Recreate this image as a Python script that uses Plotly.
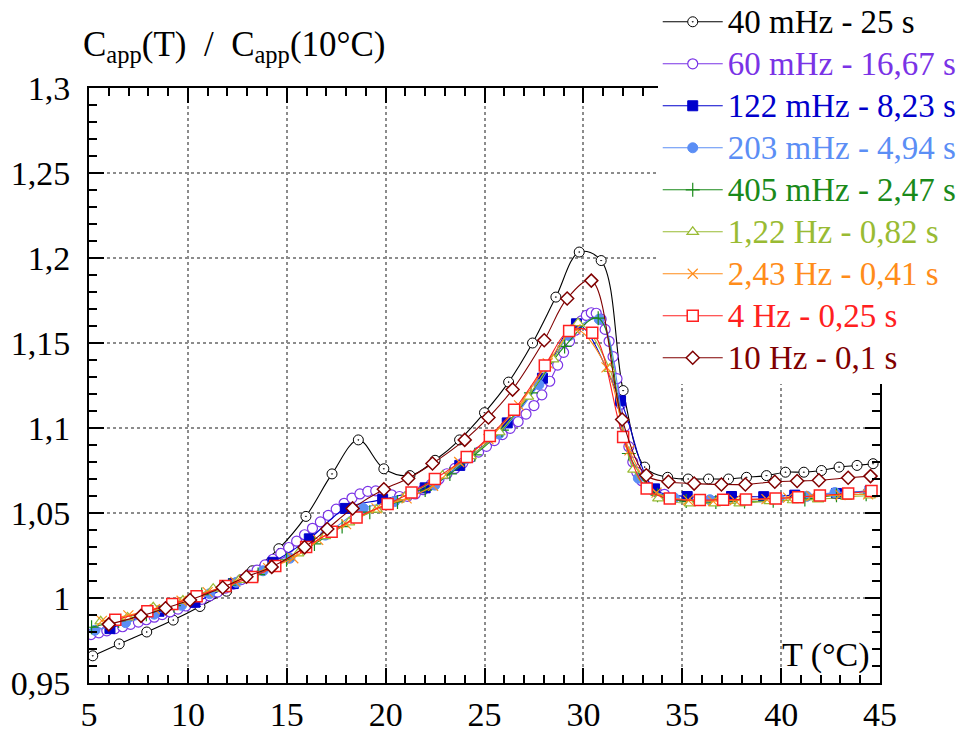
import plotly.graph_objects as go

# ---------------- data ----------------
T_40 = [5.19, 6.53, 7.92, 9.26, 10.61, 11.96, 13.26, 14.6, 15.97, 17.29, 18.62, 19.91, 21.23, 22.5,
        23.74, 25.0, 26.22, 27.43, 28.61, 29.79, 30.9, 32.01, 33.1, 34.26, 35.3, 36.33, 37.34, 38.25,
        39.26, 40.22, 41.15, 42.04, 42.93, 43.84, 44.65]
C_40 = [0.966, 0.973, 0.980, 0.987, 0.995, 1.004, 1.016, 1.029, 1.048, 1.073, 1.093, 1.076, 1.072, 1.081,
        1.093, 1.109, 1.127, 1.150, 1.177, 1.2035, 1.1985, 1.122, 1.077, 1.071, 1.070, 1.070, 1.070, 1.071,
        1.072, 1.074, 1.074, 1.075, 1.077, 1.078, 1.079]

T_60 = [5.1, 5.5, 5.9, 6.3, 6.7, 7.1, 7.5, 7.9, 8.3, 8.7, 9.1, 9.5, 9.9, 10.3, 10.7, 11.1, 11.5, 11.9,
        12.3, 12.7, 13.1, 13.5, 13.9, 14.3, 14.7, 15.1, 15.5, 15.9, 16.3, 16.7, 17.1, 17.5, 17.9, 18.3,
        18.7, 19.1, 19.5, 19.9, 20.3, 20.7, 21.1, 21.5, 21.9, 22.3, 22.7, 23.1, 23.5, 23.9, 24.3, 24.7,
        25.1, 25.5, 25.9, 26.3, 26.7, 27.1, 27.5, 27.9, 28.3, 28.7, 29.0, 29.3, 29.6, 29.9, 30.15, 30.4,
        30.65, 30.9, 31.1, 31.3, 31.5, 31.7, 31.9, 32.1, 32.3, 32.5, 32.7, 32.95, 33.3, 33.7, 34.1]
C_60 = [0.9785, 0.9795, 0.9807, 0.9819, 0.9831, 0.9845, 0.9858, 0.9872, 0.9887, 0.9902, 0.9918, 0.9935,
        0.9953, 0.9972, 0.9992, 1.0013, 1.0035, 1.0058, 1.0082, 1.0108, 1.0135, 1.0164, 1.0195, 1.0228,
        1.0262, 1.0297, 1.0334, 1.0372, 1.0410, 1.0448, 1.0486, 1.0523, 1.0557, 1.0588, 1.0612, 1.0627,
        1.0630, 1.0622, 1.0607, 1.0597, 1.0598, 1.0612, 1.0637, 1.0668, 1.0700, 1.0731, 1.0762, 1.0794,
        1.0826, 1.0858, 1.0892, 1.0926, 1.0961, 1.0998, 1.1038, 1.1082, 1.1132, 1.1195, 1.1275, 1.1370,
        1.1445, 1.1510, 1.1575, 1.1630, 1.1662, 1.1678, 1.1675, 1.1640, 1.1580, 1.1510, 1.1420, 1.1290,
        1.1140, 1.1010, 1.0890, 1.0800, 1.0740, 1.0690, 1.0650, 1.0625, 1.0610]

T_122 = [6.06, 8.54, 10.36, 12.3, 14.3, 16.14, 17.96, 19.85, 22.0, 23.75, 26.15, 27.93, 29.65, 31.88,
         33.6, 35.25, 37.49, 39.12, 40.69, 42.8, 44.5]
C_122 = [0.982, 0.9922, 0.9975, 1.0085, 1.021, 1.0348, 1.0527, 1.058, 1.0648, 1.078, 1.103, 1.1293,
         1.1613, 1.116, 1.0642, 1.0597, 1.0597, 1.0596, 1.0605, 1.0615, 1.063]

T_203 = [5.3, 6.85, 8.3, 9.68, 11.1, 12.45, 13.8, 15.16, 16.95, 18.87, 20.45, 22.49, 24.1, 25.73, 27.75,
         29.28, 30.8, 32.78, 34.6, 36.4, 38.2, 39.9, 41.3, 42.72, 44.4]
C_203 = [0.981, 0.9855, 0.9905, 0.9957, 1.0025, 1.0092, 1.016, 1.0234, 1.037, 1.0527, 1.0567, 1.0664,
         1.082, 1.0965, 1.1255, 1.1543, 1.164, 1.0705, 1.0588, 1.0578, 1.0578, 1.0585, 1.0598, 1.062, 1.0625]

T_405 = [5.13, 6.5, 7.9, 9.3, 10.7, 12.1, 13.55, 14.99, 16.4, 17.8, 19.2, 20.6, 22.0, 23.25, 24.51,
         25.88, 27.35, 29.05, 30.75, 32.3, 33.75, 35.2, 36.7, 38.15, 39.6, 41.2, 42.8, 44.3]
C_405 = [0.9828, 0.9865, 0.9905, 0.9955, 1.002, 1.0075, 1.0138, 1.0225, 1.0318, 1.042, 1.0505, 1.0565,
         1.0635, 1.073, 1.0842, 1.0988, 1.1207, 1.148, 1.1646, 1.085, 1.0605, 1.057, 1.0565, 1.0568,
         1.0572, 1.058, 1.0605, 1.061]

T_1220 = [5.59, 6.95, 8.25, 9.75, 11.28, 12.6, 14.1, 15.58, 16.93, 18.15, 19.55, 20.97, 22.88, 24.3,
          25.75, 27.2, 28.47, 29.73, 31.33, 32.53, 33.79, 35.39, 36.65, 37.9, 39.42, 40.6, 41.87, 43.3, 44.48]
C_1220 = [0.9863, 0.9886, 0.9945, 0.9985, 1.0055, 1.0107, 1.018, 1.0263, 1.0364, 1.0445, 1.052, 1.0594,
          1.072, 1.0835, 1.0975, 1.1185, 1.1404, 1.1617, 1.1347, 1.0755, 1.0586, 1.0557, 1.0557, 1.0557,
          1.057, 1.0575, 1.058, 1.0594, 1.0603]

T_2430 = [5.65, 6.99, 8.33, 9.68, 11.0, 12.4, 14.06, 15.33, 16.59, 18.0, 19.54, 21.06, 22.4, 23.72,
          25.2, 26.75, 28.2, 29.6, 31.17, 32.33, 33.7, 35.3, 36.56, 37.66, 39.26, 40.35, 41.53, 43.0, 44.4]
C_2430 = [0.9865, 0.9898, 0.9935, 0.9984, 1.0035, 1.0095, 1.0176, 1.0234, 1.0342, 1.0435, 1.0527,
          1.0586, 1.066, 1.08, 1.0935, 1.1133, 1.138, 1.158, 1.1357, 1.0868, 1.062, 1.0576, 1.057,
          1.0576, 1.0582, 1.059, 1.06, 1.0605, 1.061]

T_4000 = [6.33, 7.95, 9.21, 10.44, 11.9, 13.25, 14.42, 15.98, 17.27, 18.53, 20.1, 21.31, 22.49, 24.1,
          25.27, 26.5, 28.05, 29.28, 30.45, 32.01, 33.2, 34.37, 35.89, 37.07, 38.22, 39.72, 40.86,
          41.96, 43.39, 44.57]
C_4000 = [0.9872, 0.9922, 0.9964, 1.001, 1.007, 1.0123, 1.0188, 1.030, 1.039, 1.0473, 1.0553, 1.0621,
          1.070, 1.083, 1.0953, 1.1107, 1.1367, 1.157, 1.156, 1.0947, 1.0644, 1.0585, 1.0576, 1.0578,
          1.058, 1.0586, 1.0593, 1.0603, 1.0615, 1.0629]

T_10000 = [6.0, 7.63, 8.87, 10.11, 11.76, 12.96, 14.24, 15.9, 17.05, 18.33, 19.91, 21.14, 22.37, 24.0,
           25.2, 26.42, 28.02, 29.18, 30.4, 31.96, 33.18, 34.3, 35.6, 36.98, 38.19, 39.68, 40.81, 41.91,
           43.39, 44.52]
C_10000 = [0.9845, 0.9895, 0.994, 0.9988, 1.0062, 1.0125, 1.0183, 1.0298, 1.0406, 1.0527, 1.064, 1.0703,
           1.0791, 1.093, 1.1062, 1.1226, 1.1516, 1.1762, 1.1867, 1.105, 1.0722, 1.0684, 1.0673, 1.0668,
           1.0668, 1.0684, 1.0688, 1.0693, 1.0707, 1.0717]

series_names = ["40 mHz - 25 s", "60 mHz - 16,67 s", "122 mHz - 8,23 s", "203 mHz - 4,94 s",
                "405 mHz - 2,47 s", "1,22 Hz - 0,82 s", "2,43 Hz - 0,41 s", "4 Hz - 0,25 s",
                "10 Hz - 0,1 s"]

x_ticks = [5, 10, 15, 20, 25, 30, 35, 40, 45]
x_ticktext = ["5", "10", "15", "20", "25", "30", "35", "40", "45"]
y_ticks = [0.95, 1.0, 1.05, 1.1, 1.15, 1.2, 1.25, 1.3]
y_ticktext = ["0,95", "1", "1,05", "1,1", "1,15", "1,2", "1,25", "1,3"]

# ---------------- styles ----------------
FONT = "Liberation Serif, Times New Roman, serif"
styles = [
    dict(color="#000000", symbol="circle-dot", fill="#ffffff", size=10, lw=1.0),
    dict(color="#7a33e6", symbol="circle", fill="#ffffff", size=10, lw=1.2),
    dict(color="#0000cc", symbol="square", fill="#0000cc", size=10, lw=1.0),
    dict(color="#5b8ef5", symbol="circle", fill="#5b8ef5", size=10, lw=1.0),
    dict(color="#1a8a1a", symbol="cross-thin", fill="#1a8a1a", size=10, lw=1.2),
    dict(color="#99bb33", symbol="triangle-up", fill="#ffffff", size=10, lw=1.2),
    dict(color="#ff8c1a", symbol="x-thin", fill="#ff8c1a", size=10, lw=1.2),
    dict(color="#ff2020", symbol="square", fill="#ffffff", size=11, lw=1.5),
    dict(color="#800000", symbol="diamond", fill="#ffffff", size=10, lw=1.5),
]
data = [(T_40, C_40), (T_60, C_60), (T_122, C_122), (T_203, C_203), (T_405, C_405),
        (T_1220, C_1220), (T_2430, C_2430), (T_4000, C_4000), (T_10000, C_10000)]

fig = go.Figure()
for i, ((xs, ys), name, st) in enumerate(zip(data, series_names, styles)):
    fig.add_trace(go.Scatter(
        x=xs, y=ys, mode="lines+markers",
        name="<span style='color:%s;font-size:33px'>%s</span>" % (st["color"], name),
        line=dict(color=st["color"], width=1.1, shape="spline", smoothing=1.0),
        marker=dict(symbol=st["symbol"], size=st["size"], color=st["fill"],
                    line=dict(color=st["color"], width=st["lw"])),
    ))

axis_common = dict(
    showline=True, linecolor="black", linewidth=2, mirror="ticks",
    ticks="inside", tickcolor="black", tickwidth=1.5, ticklen=15,
    showgrid=True, gridcolor="#8c8c8c", griddash="dot", gridwidth=1.5,
    zeroline=False, automargin=False,
    tickfont=dict(family=FONT, size=34, color="black"),
)

fig.update_xaxes(range=[5, 45], tickmode="array", tickvals=x_ticks, ticktext=x_ticktext,
                 minor=dict(dtick=1, ticks="inside", ticklen=8, tickcolor="black", showgrid=False),
                 **axis_common)
fig.update_yaxes(range=[0.95, 1.3], tickmode="array", tickvals=y_ticks, ticktext=y_ticktext,
                 ticklabelstandoff=10,
                 minor=dict(dtick=0.01, tick0=0.95, ticks="inside", ticklen=8, tickcolor="black", showgrid=False),
                 **axis_common)

fig.update_layout(
    width=968, height=736,
    margin=dict(l=89, r=88, t=88, b=53, autoexpand=False),
    paper_bgcolor="white", plot_bgcolor="white",
    font=dict(family=FONT, size=34, color="black"),
    showlegend=True,
    legend=dict(x=0.719, y=1.155, xanchor="left", yanchor="top",
                bgcolor="white", borderwidth=0, maxheight=600,
                font=dict(family=FONT, size=30), itemwidth=60),
    annotations=[
        dict(text="C<sub>app</sub>(T)  /  C<sub>app</sub>(10°C)", xref="paper", yref="paper",
             x=-0.01, y=1.07, xanchor="left", yanchor="middle", showarrow=False,
             font=dict(family=FONT, size=35, color="black")),
        dict(text="T (°C)", xref="paper", yref="paper", x=0.932, y=0.047,
             xanchor="center", yanchor="middle", showarrow=False,
             font=dict(family=FONT, size=34, color="black")),
    ],
)

fig.write_html("out.html", config={"displayModeBar": False},
               post_script="document.body.style.margin='0';")
